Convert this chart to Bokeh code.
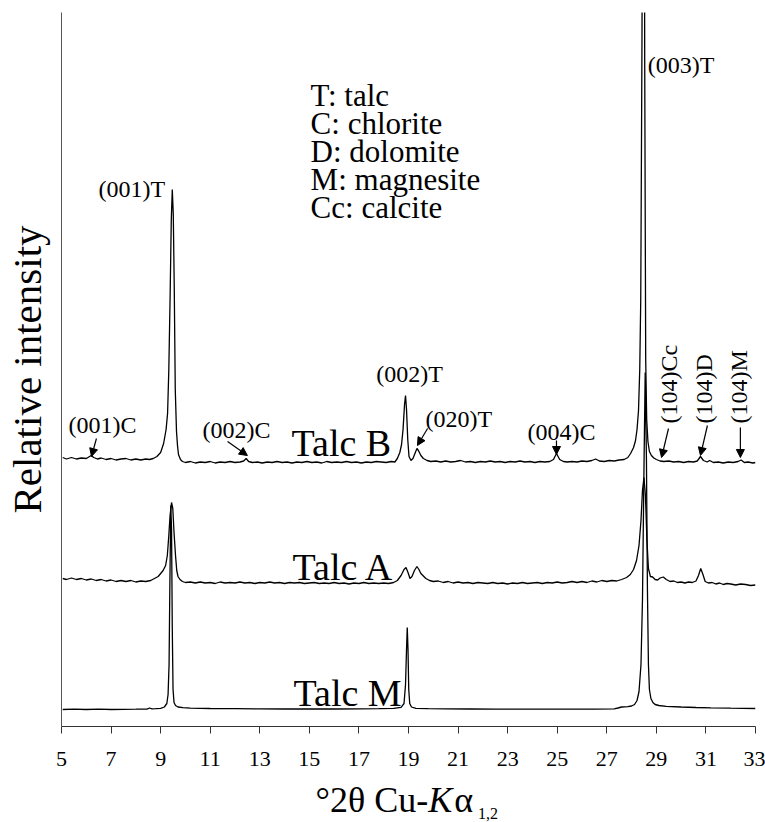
from bokeh.plotting import figure
from bokeh.models import Label, Arrow, NormalHead, Range1d, FixedTicker
from bokeh.core.properties import value
from bokeh.layouts import column
from bokeh.embed import file_html
from bokeh.resources import INLINE

# ---------------- data ----------------
x_ticks = [5, 7, 9, 11, 13, 15, 17, 19, 21, 23, 25, 27, 29, 31, 33]

sample_names = ["Talc B", "Talc A", "Talc M"]
sample_offsets = [267, 146, 17]

two_theta_B = [
    5.05, 5.2, 5.4, 5.6, 5.8, 6.0, 6.1, 6.2, 6.3, 6.45,
    6.6, 6.8, 7.0, 7.2, 7.4, 7.6, 7.8, 8.0, 8.2, 8.4,
    8.55, 8.7, 8.85, 9.0, 9.12, 9.22, 9.28, 9.33, 9.38, 9.43,
    9.47, 9.51, 9.55, 9.59, 9.64, 9.68, 9.72, 9.8, 9.88, 10.0,
    10.2, 10.4, 10.6, 10.8, 11.0, 11.2, 11.4, 11.6, 11.8, 12.0,
    12.2, 12.35, 12.45, 12.55, 12.7, 12.9, 13.1, 13.3, 13.5, 13.7,
    13.9, 14.1, 14.3, 14.5, 14.7, 14.9, 15.1, 15.3, 15.5, 15.7,
    15.9, 16.1, 16.3, 16.5, 16.7, 16.9, 17.1, 17.3, 17.5, 17.7,
    17.9, 18.1, 18.3, 18.45, 18.55, 18.65, 18.72, 18.78, 18.84, 18.88,
    18.92, 18.97, 19.02, 19.1, 19.18, 19.26, 19.34, 19.4, 19.5, 19.6,
    19.75, 19.9, 20.1, 20.3, 20.5, 20.7, 20.9, 21.1, 21.3, 21.5,
    21.7, 21.9, 22.1, 22.3, 22.5, 22.7, 22.9, 23.1, 23.3, 23.5,
    23.7, 23.9, 24.1, 24.3, 24.5, 24.7, 24.85, 24.97, 25.1, 25.25,
    25.4, 25.6, 25.8, 26.0, 26.2, 26.4, 26.55, 26.7, 26.9, 27.1,
    27.3, 27.5, 27.7, 27.85, 27.96, 28.08, 28.16, 28.22, 28.28, 28.33,
    28.37, 28.42, 28.46, 28.5, 28.53, 28.57, 28.61, 28.66, 28.72, 28.8,
    28.9, 29.0, 29.15, 29.3, 29.5, 29.7, 29.9, 30.1, 30.3, 30.5,
    30.65, 30.78, 30.9, 31.05, 31.15, 31.3, 31.5, 31.7, 31.9, 32.1,
    32.3, 32.42, 32.55, 32.7, 32.9, 33.0,
]
intensity_B = [
    2, 0.5, 2, 0.5, 1.5, 1, 2.5, 4, 2, 0.5,
    1.5, 0, 1, -0.5, 0.5, 1, -0.5, 0.5, -0.5, 0.5,
    0, 1, 3, 7, 16, 30, 46, 90, 160, 240,
    270, 245, 170, 70, 28, 14, 5, 0, -2, -3,
    -2, -3.5, -2.5, -3, -2, -3.5, -2.5, -3, -2, -3,
    -2.5, -1.5, 1, -2, -3, -2.5, -3.5, -2.5, -3, -2,
    -3, -2.5, -3.5, -2.5, -3, -2, -3, -2.5, -3.5, -2,
    -3, -2.5, -3, -2, -3, -2.5, -3.5, -2.5, -3, -2,
    -2.5, -3, -2, -2.5, 1, 7, 15, 30, 55, 64,
    50, 20, 3, -1, 1, 6, 11, 9, 4, 1,
    -1, -2, -1.5, -2.5, -1.5, -2.5, -2, -1, -2.5, -2,
    -3, -2, -2.5, -1.5, -2.5, -2, -3, -2, -2.5, -1.5,
    -2.5, -2, -3, -2, -2.5, -2, 0, 6, 0, -2,
    -2.5, -2, -2.5, -1.5, -2, -1, 0.5, -1.5, -2, -1,
    -1.5, -0.5, 0, 2, 6, 12, 19, 30, 49, 90,
    160, 420, 800, 800, 400, 100, 40, 18, 8, 4,
    1.5, 0, -1.5, -2, -1.5, -2.5, -2, -3, -2, -2.5,
    -1.5, 3, -1, -2.5, -1, -3, -2.5, -3.5, -2.5, -3,
    -2, -0.5, -3, -2.5, -3.5, -3,
]

two_theta_A = [
    5.05, 5.2, 5.4, 5.6, 5.8, 6.0, 6.2, 6.4, 6.6, 6.8,
    7.0, 7.2, 7.4, 7.6, 7.8, 8.0, 8.2, 8.4, 8.6, 8.75,
    8.9, 9.0, 9.1, 9.2, 9.27, 9.33, 9.38, 9.44, 9.49, 9.54,
    9.6, 9.65, 9.7, 9.78, 9.88, 10.0, 10.2, 10.4, 10.6, 10.8,
    11.0, 11.2, 11.4, 11.6, 11.8, 12.0, 12.2, 12.4, 12.6, 12.8,
    13.0, 13.2, 13.4, 13.6, 13.8, 14.0, 14.2, 14.4, 14.6, 14.8,
    15.0, 15.2, 15.4, 15.6, 15.8, 16.0, 16.2, 16.4, 16.6, 16.8,
    17.0, 17.2, 17.4, 17.6, 17.8, 18.0, 18.2, 18.4, 18.55, 18.7,
    18.82, 18.9, 18.98, 19.06, 19.14, 19.24, 19.34, 19.42, 19.5, 19.58,
    19.7, 19.85, 20.0, 20.2, 20.4, 20.6, 20.8, 21.0, 21.2, 21.4,
    21.6, 21.8, 22.0, 22.2, 22.4, 22.6, 22.8, 23.0, 23.2, 23.4,
    23.6, 23.8, 24.0, 24.2, 24.4, 24.6, 24.8, 25.0, 25.2, 25.4,
    25.6, 25.8, 26.0, 26.2, 26.4, 26.6, 26.8, 27.0, 27.2, 27.4,
    27.6, 27.8, 27.95, 28.08, 28.2, 28.3, 28.38, 28.44, 28.5, 28.56,
    28.62, 28.68, 28.76, 28.85, 28.95, 29.05, 29.15, 29.28, 29.4, 29.55,
    29.7, 29.85, 30.0, 30.15, 30.3, 30.45, 30.6, 30.7, 30.79, 30.88,
    30.97, 31.1, 31.25, 31.4, 31.55, 31.7, 31.85, 32.0, 32.2, 32.4,
    32.6, 32.8, 33.0,
]
intensity_A = [
    2, 1, 2.5, 1, 2, 0.5, 1.5, 0, 1, -0.5,
    0.5, -1, 0, -1, 0, -1.5, -0.5, -1, 0, 2,
    4, 7, 10, 15, 25, 45, 65, 78, 72, 48,
    25, 10, 4, 1, -1, -2, -1.5, -2.5, -1.5, -2.5,
    -2, -3, -1.5, -2.5, -2, -2.5, -1.5, -2.5, -2, -3,
    -2, -2.5, -1.5, -2.5, -2, -3, -2, -2.5, -2, -3,
    -2.5, -2, -3, -2.5, -3, -2, -3, -2.5, -3.5, -2.5,
    -3, -2, -3, -2.5, -3, -2.5, -3, -2, 0, 5,
    11, 13, 8, 2, 4, 10, 14, 11, 7, 5,
    2, 0, -1, -0.5, -2, -1, -2.5, -1.5, -2.5, -2,
    -3, -2, -2.5, -3, -2, -3, -2.5, -3.5, -2.5, -3,
    -2, -3, -2.5, -2, -3, -2, -2.5, -1.5, -2.5, -2,
    -1, -2, -1, -2, -0.5, -1.5, 0, -1, 0, -0.5,
    1, 3, 6, 11, 20, 35, 60, 90, 103, 85,
    40, 12, 4, 3.5, 1, 0.5, 2.5, 3.5, 1, -1,
    -0.5, -2, -1.5, -2.5, -1.5, -2, -0.5, 5, 12, 6,
    -1, -2.5, -2, -3.5, -2.5, -4, -3, -3.5, -4.5, -3.5,
    -4, -5, -4.5,
]

two_theta_M = [
    5.05, 5.5, 6.0, 6.5, 7.0, 7.5, 8.0, 8.45, 8.55, 8.65,
    8.8, 9.0, 9.15, 9.25, 9.3, 9.34, 9.37, 9.41, 9.44, 9.47,
    9.5, 9.54, 9.6, 9.7, 9.9, 10.2, 11.0, 12.0, 13.0, 14.0,
    15.0, 16.0, 17.0, 17.8, 18.4, 18.7, 18.82, 18.88, 18.92, 18.95,
    18.98, 19.01, 19.05, 19.12, 19.3, 19.8, 20.5, 21.5, 22.5, 23.5,
    24.5, 25.5, 26.5, 27.3, 27.45, 27.6, 27.85, 28.0, 28.12, 28.22,
    28.3, 28.38, 28.44, 28.5, 28.55, 28.6, 28.64, 28.68, 28.72, 28.78,
    28.86, 28.95, 29.1, 29.4, 30.0, 30.6, 31.2, 32.0, 33.0,
]
intensity_M = [
    0, 0.3, 0, 0.3, 0, 0.2, 0.3, 0.4, 1.5, 0.6,
    0.8, 1.2, 2.5, 6, 15, 45, 120, 204, 180, 80,
    20, 7, 4, 2.5, 1.8, 1.3, 1.0, 0.8, 0.6, 0.5,
    0.6, 0.5, 0.6, 0.8, 1.2, 2.2, 6, 25, 60, 82,
    60, 20, 6, 2.5, 1.2, 0.8, 0.6, 0.5, 0.4, 0.3,
    0.3, 0.3, 0.4, 0.6, 1.5, 2.5, 2.8, 3.5, 5, 9,
    18, 45, 110, 240, 337, 250, 120, 45, 20, 11,
    7, 5, 4, 3.2, 2.5, 2, 1.6, 1.3, 1.0,
]

legend_lines = ["T: talc", "C: chlorite", "D: dolomite", "M: magnesite", "Cc: calcite"]

# ---------------- figure ----------------
FONT = "Liberation Serif"

p = figure(width=765, height=780, x_range=Range1d(5, 33), y_range=Range1d(0, 714),
           output_backend="svg", toolbar_location=None, title=None,
           min_border_left=61, min_border_right=10, min_border_top=12, min_border_bottom=54)
p.outline_line_color = None
p.grid.visible = False
p.background_fill_color = "white"
p.border_fill_color = "white"

# x axis
p.xaxis.ticker = FixedTicker(ticks=x_ticks)
p.xaxis.minor_tick_line_color = None
p.xaxis.major_tick_in = 0
p.xaxis.major_tick_out = 7
p.xaxis.major_tick_line_color = "#333333"
p.xaxis.axis_line_color = "#333333"
p.xaxis.major_label_text_font = FONT
p.xaxis.major_label_text_font_size = "22px"
p.xaxis.major_label_text_color = "black"
p.xaxis.major_label_standoff = 18

# y axis: line and title only
p.yaxis.ticker = FixedTicker(ticks=[])
p.yaxis.minor_tick_line_color = None
p.yaxis.major_tick_line_color = None
p.yaxis.axis_line_color = "#555555"
p.yaxis.axis_label = "Relative intensity"
p.yaxis.axis_label_text_font = FONT
p.yaxis.axis_label_text_font_style = "normal"
p.yaxis.axis_label_text_font_size = "41px"
p.yaxis.axis_label_text_color = "black"
p.yaxis.axis_label_standoff = 12

# traces
for tt, inten, off in [(two_theta_B, intensity_B, sample_offsets[0]),
                       (two_theta_A, intensity_A, sample_offsets[1]),
                       (two_theta_M, intensity_M, sample_offsets[2])]:
    p.line(tt, [v + off for v in inten], line_color="black", line_width=1.3)

# sample names (y = vertical centre of the text)
for name, x, y in zip(sample_names, [14.28, 14.32, 14.36], [284, 160, 34]):
    p.add_layout(Label(x=x, y=y, text=name, text_font=FONT, text_font_size="38px",
                       text_color="black", text_baseline="middle", text_align="left"))

# legend block
for i, t in enumerate(legend_lines):
    p.add_layout(Label(x=15.05, y=631 - 28 * i, text=t, text_font=FONT, text_font_size="31px",
                       text_color="black", text_baseline="middle", text_align="left"))

# peak labels (horizontal)
peak_labels = [("(001)T", 6.49, 538),
               ("(003)T", 28.65, 662),
               ("(001)C", 5.28, 302),
               ("(002)C", 10.69, 297),
               ("(002)T", 17.7, 353),
               ("(020)T", 19.69, 308),
               ("(004)C", 23.8, 295)]
for t, x, y in peak_labels:
    p.add_layout(Label(x=x, y=y, text=t, text_font=FONT, text_font_size="24px",
                       text_color="black", text_baseline="middle", text_align="left"))

# rotated peak labels
for t, x in [("(104)Cc", 29.52), ("(104)D", 30.93), ("(104)M", 32.34)]:
    p.add_layout(Label(x=x, y=303, text=t, text_font=FONT, text_font_size="24px",
                       text_color="black", text_baseline="middle", text_align="left",
                       angle=90, angle_units="deg"))

# arrows
arrows = [((6.41, 288), (6.21, 270)),
          ((11.70, 285), (12.50, 271)),
          ((19.77, 298), (19.36, 281)),
          ((24.97, 286), (24.97, 272)),
          ((29.49, 298), (29.21, 269)),
          ((31.06, 301), (30.78, 271)),
          ((32.39, 299), (32.39, 269))]
for (xs, ys), (xe, ye) in arrows:
    p.add_layout(Arrow(end=NormalHead(size=8, fill_color="black", line_color="black"),
                       x_start=xs, y_start=ys, x_end=xe, y_end=ye,
                       line_color="black", line_width=1.2))

# x-axis title: thin SVG strip under the plot sharing the same horizontal scale
q = figure(width=765, height=42, x_range=p.x_range, y_range=Range1d(0, 42),
           x_axis_type=None, y_axis_type=None, output_backend="svg", toolbar_location=None,
           title=None, min_border_left=61, min_border_right=10, min_border_top=0,
           min_border_bottom=0)
q.outline_line_color = None
q.grid.visible = False
q.border_fill_color = "white"
q.background_fill_color = "white"
title_parts = [("°2θ Cu-", 15.25, 23, "36px", "normal"),
               ("K", 19.8, 23, "36px", "italic"),
               ("α", 20.85, 23, "36px", "normal"),
               ("1,2", 21.8, 9, "16px", "normal")]
for t, x, y, fs, st in title_parts:
    q.text(x=[x], y=[y], text=[t], text_font=value(FONT), text_font_size=fs,
           text_font_style=st, text_color="black",
           text_baseline="middle", text_align="left")

layout = column(p, q, spacing=0)

open("out.html", "w").write(file_html(layout, INLINE))
